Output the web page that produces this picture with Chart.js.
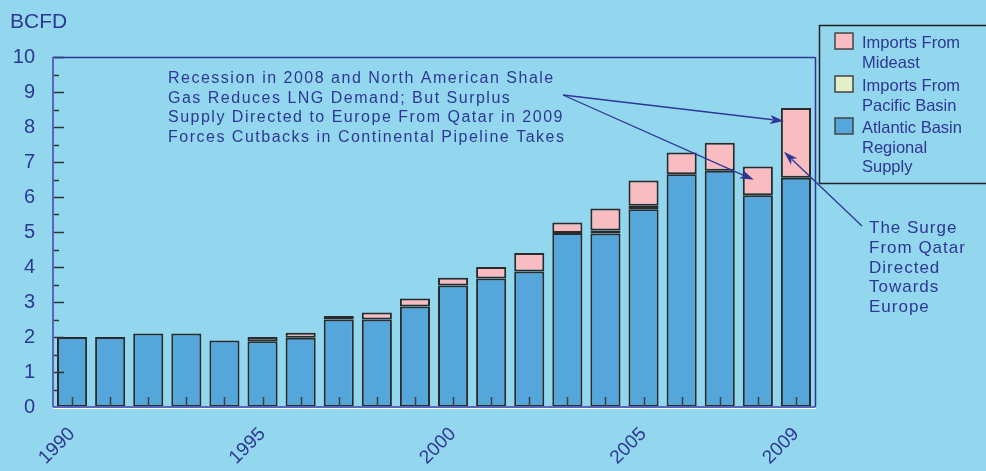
<!DOCTYPE html>
<html>
<head>
<meta charset="utf-8">
<script src="https://cdn.jsdelivr.net/npm/chart.js@4.4.0/dist/chart.umd.min.js"></script>
<style>
  html, body { margin: 0; padding: 0; background: #93d7ee; }
  #wrap { width: 986px; height: 471px; }
</style>
</head>
<body>
<div id="wrap"><canvas id="myChart" width="986" height="471"></canvas></div>
<script>
// data (BCFD)
const years = ['1990', '1991', '1992', '1993', '1994', '1995', '1996', '1997', '1998', '1999',
               '2000', '2001', '2002', '2003', '2004', '2005', '2006', '2007', '2008', '2009'];
const atlantic = [2.0, 2.0, 2.1, 2.1, 1.9, 1.88, 1.98, 2.5, 2.5, 2.87,
                  3.47, 3.67, 3.87, 4.97, 4.96, 5.65, 6.65, 6.75, 6.05, 6.55];
const pacific = [0, 0, 0, 0, 0, 0, 0, 0, 0, 0,
                 0, 0, 0, 0, 0.08, 0.1, 0, 0, 0, 0];
const mideast = [0, 0, 0, 0, 0, 0.12, 0.14, 0.1, 0.2, 0.23,
                 0.22, 0.33, 0.53, 0.3, 0.63, 0.72, 0.62, 0.8, 0.82, 1.99];
const shownYears = ['1990', '1995', '2000', '2005', '2009'];
const yTicks = [0, 1, 2, 3, 4, 5, 6, 7, 8, 9, 10];

const ink = '#2e3796';
const bg = '#93d7ee';
const colBlue = '#55a7db';
const colPacific = '#e3efc9';
const colMideast = '#f9bdc1';
const edge = '#2b2b2b';

const noteLines = ['Recession in 2008 and North American Shale',
                   'Gas Reduces LNG Demand; But Surplus',
                   'Supply Directed to Europe From Qatar in 2009',
                   'Forces Cutbacks in Continental Pipeline Takes'];
const surgeLines = ['The Surge', 'From Qatar', 'Directed', 'Towards', 'Europe'];
const legendItems = [
  { color: colMideast, lines: ['Imports From', 'Mideast'] },
  { color: colPacific, lines: ['Imports From', 'Pacific Basin'] },
  { color: colBlue, lines: ['Atlantic Basin', 'Regional', 'Supply'] }
];

function arrow(ctx, x1, y1, x2, y2) {
  const a = Math.atan2(y2 - y1, x2 - x1);
  const len = 14, w = 4.5;
  ctx.beginPath();
  ctx.moveTo(x1, y1);
  ctx.lineTo(x2 - Math.cos(a) * len * 0.8, y2 - Math.sin(a) * len * 0.8);
  ctx.stroke();
  ctx.beginPath();
  ctx.moveTo(x2, y2);
  ctx.lineTo(x2 - Math.cos(a) * len - Math.sin(a) * w, y2 - Math.sin(a) * len + Math.cos(a) * w);
  ctx.lineTo(x2 - Math.cos(a) * len * 0.75, y2 - Math.sin(a) * len * 0.75);
  ctx.lineTo(x2 - Math.cos(a) * len + Math.sin(a) * w, y2 - Math.sin(a) * len - Math.cos(a) * w);
  ctx.closePath();
  ctx.fill();
}

const decor = {
  id: 'decor',
  beforeDraw(chart) {
    const ctx = chart.ctx;
    ctx.save();
    ctx.fillStyle = bg;
    ctx.fillRect(0, 0, chart.width, chart.height);
    ctx.restore();
  },
  afterDatasetsDraw(chart) {
    const ctx = chart.ctx;
    const area = chart.chartArea;
    const xs = chart.scales.x, ys = chart.scales.y;
    ctx.save();

    // category ticks inside bars
    ctx.strokeStyle = '#3a3f4a';
    ctx.lineWidth = 1.5;
    years.forEach((y, i) => {
      const x = Math.round(xs.getPixelForValue(i)) + 0.5;
      ctx.beginPath();
      ctx.moveTo(x, area.bottom);
      ctx.lineTo(x, area.bottom - 10);
      ctx.stroke();
    });

    // y ticks, major and minor, pointing into the plot
    ctx.strokeStyle = '#333';
    for (let v = 0; v <= 10; v += 0.5) {
      const y = Math.round(ys.getPixelForValue(v)) + 0.5;
      const len = Number.isInteger(v) ? 11 : 6;
      ctx.beginPath();
      ctx.moveTo(area.left, y);
      ctx.lineTo(area.left + len, y);
      ctx.stroke();
    }

    // frame
    ctx.lineWidth = 1.5;
    ctx.strokeStyle = ink;
    ctx.beginPath();
    ctx.moveTo(area.left, area.top + 0.5);
    ctx.lineTo(area.right, area.top + 0.5);
    ctx.moveTo(area.right + 0.5, area.top);
    ctx.lineTo(area.right + 0.5, area.bottom);
    ctx.stroke();
    ctx.strokeStyle = '#5866bb';
    ctx.lineWidth = 2;
    ctx.beginPath();
    ctx.moveTo(area.left, area.top);
    ctx.lineTo(area.left, area.bottom);
    ctx.moveTo(area.left, area.bottom);
    ctx.lineTo(area.right, area.bottom);
    ctx.stroke();
    ctx.strokeStyle = '#ffffff';
    ctx.lineWidth = 1;
    ctx.beginPath();
    ctx.moveTo(area.left, area.bottom + 1.5);
    ctx.lineTo(area.right + 1, area.bottom + 1.5);
    ctx.stroke();

    // axis title
    ctx.fillStyle = ink;
    ctx.font = '21px "Liberation Sans", Arial, sans-serif';
    ctx.textBaseline = 'alphabetic';
    ctx.textAlign = 'left';
    ctx.fillText('BCFD', 10, 28);

    // annotation text
    ctx.font = '16px "Liberation Sans", Arial, sans-serif';
    ctx.letterSpacing = '1.5px';
    noteLines.forEach((t, i) => ctx.fillText(t, 168, 83 + i * 19.5));
    ctx.font = '17px "Liberation Sans", Arial, sans-serif';
    ctx.letterSpacing = '1px';
    surgeLines.forEach((t, i) => ctx.fillText(t, 869, 233 + i * 19.8));
    ctx.letterSpacing = '0px';

    // arrows, heads anchored to bars through the scales
    ctx.strokeStyle = ink;
    ctx.fillStyle = ink;
    ctx.lineWidth = 1.3;
    arrow(ctx, 563, 95, xs.getPixelForValue(19) - 12, ys.getPixelForValue(8.17));
    arrow(ctx, 563, 95, xs.getPixelForValue(18) - 4, ys.getPixelForValue(6.49));
    arrow(ctx, 862, 226, xs.getPixelForValue(19) - 12, ys.getPixelForValue(7.29));

    // legend box
    ctx.strokeStyle = '#222';
    ctx.lineWidth = 1.5;
    ctx.strokeRect(819.5, 25.5, 200, 158);
    const swY = [33, 76, 118];
    const txtY = [48, 91, 133];
    ctx.font = '16.5px "Liberation Sans", Arial, sans-serif';
    legendItems.forEach((it, i) => {
      ctx.fillStyle = it.color;
      ctx.fillRect(835, swY[i], 18, 16);
      ctx.strokeStyle = '#444';
      ctx.lineWidth = 1.5;
      ctx.strokeRect(835, swY[i], 18, 16);
      ctx.fillStyle = ink;
      it.lines.forEach((t, k) => ctx.fillText(t, 862, txtY[i] + k * 19.5));
    });
    ctx.restore();
  }
};

const ctx = document.getElementById('myChart');
const barStyle = {
  borderColor: edge,
  borderWidth: 2,
  borderSkipped: false,
  barPercentage: 0.79,
  categoryPercentage: 1.0
};

new Chart(ctx, {
  type: 'bar',
  data: {
    labels: years,
    datasets: [
      Object.assign({ label: 'Atlantic Basin Regional Supply', data: atlantic, backgroundColor: colBlue }, barStyle),
      Object.assign({ label: 'Imports From Pacific Basin', data: pacific, backgroundColor: colPacific }, barStyle),
      Object.assign({ label: 'Imports From Mideast', data: mideast, backgroundColor: colMideast }, barStyle)
    ]
  },
  options: {
    responsive: false,
    animation: false,
    layout: { padding: { top: 57, right: 171, left: 0, bottom: 0 } },
    plugins: {
      legend: { display: false },
      tooltip: { enabled: false }
    },
    scales: {
      x: {
        stacked: true,
        grid: { display: false },
        border: { display: false },
        afterFit: (s) => { s.height = 64; },
        ticks: {
          autoSkip: false,
          maxRotation: 45,
          minRotation: 45,
          padding: 8,
          color: ink,
          font: { family: '"Liberation Sans", Arial, sans-serif', size: 19 },
          callback: function (v) {
            const y = this.getLabelForValue(v);
            return shownYears.includes(y) ? y : '';
          }
        }
      },
      y: {
        stacked: true,
        min: 0,
        max: 10,
        grid: { display: false },
        border: { display: false },
        afterFit: (s) => { s.width = 53; },
        afterBuildTicks: (s) => { s.ticks = yTicks.map(v => ({ value: v })); },
        ticks: {
          padding: 10,
          color: ink,
          font: { family: '"Liberation Sans", Arial, sans-serif', size: 20 }
        }
      }
    }
  },
  plugins: [decor]
});
</script>
</body>
</html>
